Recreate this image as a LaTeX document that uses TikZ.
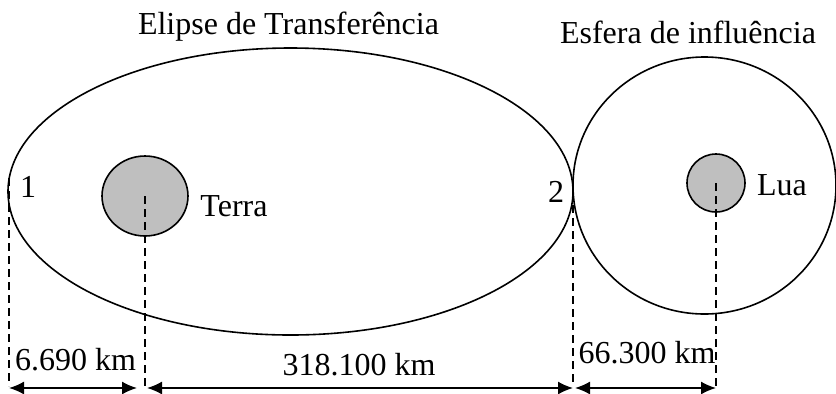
\documentclass[tikz,border=0pt]{standalone}
\usepackage{fontspec}
\setmainfont{Liberation Serif}
\usetikzlibrary{arrows.meta}
\usetikzlibrary{shapes.geometric}

\begin{document}
\begin{tikzpicture}[x=.5pt, y=-.5pt, line width=.8pt,
  rotulo/.style={anchor=base, inner sep=0, font=\fontsize{16}{19}\selectfont},
  corpo/.style={draw, fill=black!25, inner sep=0},
  guia/.style={line width=.7pt, dash pattern=on 4pt off 2.5pt},
  cota/.style={{Latex[length=7.5pt,width=6.5pt]}-{Latex[length=7.5pt,width=6.5pt]}}]
\useasboundingbox (0,0) rectangle (836,393);
% orbita de transferencia e esfera da lua
\draw (290.5,191.5) ellipse [x radius=282.5, y radius=143.5];
\draw (704.5,185.5) ellipse [x radius=131.5, y radius=128.5];
\node[corpo, ellipse, minimum width=43pt, minimum height=40pt] (terra) at (145,196) {};
\node[corpo, circle, minimum size=29pt] (lua) at (716,183) {};
% textos
\node[rotulo] (tElipse) at (288.5,34) {Elipse de Transferência};
\node[rotulo] (tEsfera) at (688,43) {Esfera de influência};
\node[rotulo] (tUm) at (28,197) {1};
\node[rotulo] (tDois) at (556,202) {2};
\node[rotulo] (tTerra) at (234,216) {Terra};
\node[rotulo] (tLua) at (782,195) {Lua};
% linhas de chamada
\coordinate (um) at (9,178);
\coordinate (dois) at (573,205);
\coordinate (base) at (0,386);
\foreach \p in {um, terra, dois, lua} {
 \draw[guia] (\p.center) -- (\p |- base);
}
% cotas
\coordinate (a1) at (9,388);   \coordinate (b1) at (137,388);
\coordinate (a2) at (147,388); \coordinate (b2) at (573,388);
\coordinate (a3) at (575,388); \coordinate (b3) at (716,388);
\draw[cota] (a1) -- (b1);
\draw[cota] (a2) -- (b2);
\draw[cota] (a3) -- (b3);
\node[rotulo] (d1) at (75.5,370) {6.690 km};
\node[rotulo] (d2) at (359,375) {318.100 km};
\node[rotulo] (d3) at (647,363) {66.300 km};
\end{tikzpicture}
\end{document}
